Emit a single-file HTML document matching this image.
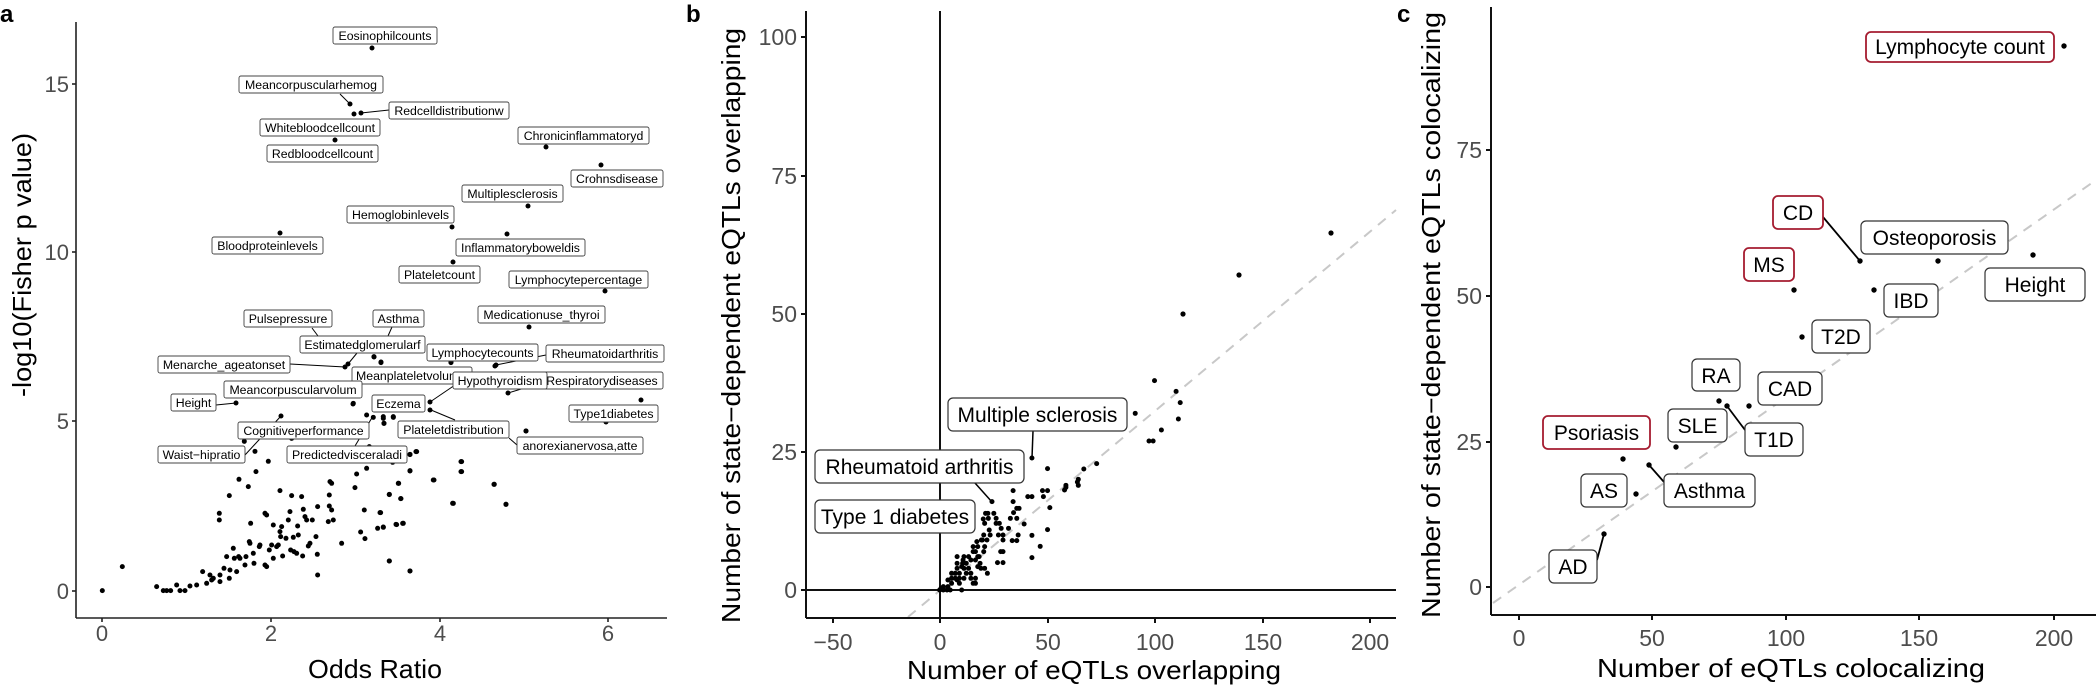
<!DOCTYPE html>
<html><head><meta charset="utf-8"><style>
html,body{margin:0;padding:0;background:#fff;}
svg{display:block;font-family:"Liberation Sans",Arial,sans-serif;}
.tk{font-size:22px;fill:#4d4d4d;}
.tkb{font-size:23px;fill:#4d4d4d;}
.ttl{font-size:26px;fill:#000;}
.la rect{fill:#fff;stroke:#444;stroke-width:0.9;}
.la text{font-size:12.3px;text-anchor:middle;fill:#000;}
.lb rect{fill:#fff;stroke:#333;stroke-width:1.2;}
.lb text{font-size:21px;text-anchor:middle;fill:#000;}
.red{stroke:#a51c30 !important;stroke-width:1.8 !important;}
</style></head><body>
<svg width="2096" height="688" viewBox="0 0 2096 688" xmlns="http://www.w3.org/2000/svg">
<!-- panel letters -->
<text x="0" y="22" font-size="24" font-weight="bold">a</text>
<text x="686" y="22" font-size="24" font-weight="bold">b</text>
<text x="1397" y="22" font-size="24" font-weight="bold">c</text>

<!-- ============ PANEL A ============ -->
<g stroke="#222" stroke-width="1.6">
<line x1="76" y1="22" x2="76" y2="618"/>
<line x1="76" y1="618" x2="667" y2="618"/>
<line x1="72" y1="591" x2="76" y2="591"/><line x1="72" y1="421" x2="76" y2="421"/><line x1="72" y1="252" x2="76" y2="252"/><line x1="72" y1="84" x2="76" y2="84"/>
<line x1="102" y1="618" x2="102" y2="622"/><line x1="271" y1="618" x2="271" y2="622"/><line x1="440" y1="618" x2="440" y2="622"/><line x1="608" y1="618" x2="608" y2="622"/>
</g>
<g class="tk" text-anchor="end">
<text x="69" y="599">0</text><text x="69" y="429">5</text><text x="69" y="260">10</text><text x="69" y="92">15</text>
</g>
<g class="tk" text-anchor="middle">
<text x="102" y="641">0</text><text x="271" y="641">2</text><text x="440" y="641">4</text><text x="608" y="641">6</text>
</g>
<text class="ttl" x="308" y="678" textLength="134" lengthAdjust="spacingAndGlyphs">Odds Ratio</text>
<text class="ttl" transform="translate(31,397) rotate(-90)" textLength="264" lengthAdjust="spacingAndGlyphs">-log10(Fisher p value)</text>

<!-- leader lines a -->
<g stroke="#000" stroke-width="1">
<line x1="340" y1="94" x2="350" y2="104"/>
<line x1="361" y1="113" x2="389" y2="110"/>
<line x1="312" y1="328" x2="318" y2="336"/>
<line x1="392" y1="327" x2="388" y2="336"/>
<line x1="357" y1="353" x2="348" y2="364"/>
<line x1="290" y1="364" x2="345" y2="367"/>
<line x1="496" y1="365" x2="546" y2="355"/>
<line x1="430" y1="402" x2="455" y2="385"/>
<line x1="508" y1="393" x2="541" y2="383"/>
<line x1="216" y1="405" x2="236" y2="403"/>
<line x1="431" y1="410" x2="455" y2="420"/>
<line x1="245" y1="455" x2="281" y2="416"/>
<line x1="355" y1="446" x2="373" y2="416"/>
<line x1="509" y1="438" x2="517" y2="445"/>
</g>

<!-- points a -->
<g fill="#000">
<g>
<circle cx="372" cy="48" r="2.5"/><circle cx="350" cy="104" r="2.5"/><circle cx="354" cy="114" r="2.5"/><circle cx="361" cy="113" r="2.5"/><circle cx="335" cy="140" r="2.5"/><circle cx="280" cy="233" r="2.5"/><circle cx="452" cy="227" r="2.5"/><circle cx="528" cy="206" r="2.5"/><circle cx="546" cy="147" r="2.5"/><circle cx="601" cy="165" r="2.5"/><circle cx="507" cy="234" r="2.5"/><circle cx="453" cy="262" r="2.5"/><circle cx="605" cy="291" r="2.5"/><circle cx="529" cy="327" r="2.5"/><circle cx="496" cy="365" r="2.5"/><circle cx="508" cy="393" r="2.5"/><circle cx="236" cy="403" r="2.5"/><circle cx="430" cy="402" r="2.5"/><circle cx="430" cy="410" r="2.5"/><circle cx="281" cy="416" r="2.5"/><circle cx="606" cy="422" r="2.5"/><circle cx="641" cy="400" r="2.5"/><circle cx="526" cy="431" r="2.5"/><circle cx="345" cy="367" r="2.5"/><circle cx="348" cy="364" r="2.5"/><circle cx="374" cy="357" r="2.5"/><circle cx="381" cy="362" r="2.5"/><circle cx="451" cy="362" r="2.5"/><circle cx="353" cy="404" r="2.5"/>
</g>
<g transform="matrix(0.3333 0 0 0.3333 0 250)">
<circle cx="307" cy="1022" r="7.5"/><circle cx="367" cy="950" r="7.5"/><circle cx="470" cy="1010" r="7.5"/><circle cx="490" cy="1022" r="7.5"/><circle cx="500" cy="1022" r="7.5"/><circle cx="512" cy="1022" r="7.5"/><circle cx="530" cy="1005" r="7.5"/><circle cx="540" cy="1022" r="7.5"/><circle cx="555" cy="1022" r="7.5"/><circle cx="570" cy="1008" r="7.5"/><circle cx="590" cy="1005" r="7.5"/><circle cx="608" cy="965" r="7.5"/><circle cx="620" cy="1000" r="7.5"/><circle cx="630" cy="975" r="7.5"/><circle cx="635" cy="990" r="7.5"/><circle cx="640" cy="985" r="7.5"/><circle cx="660" cy="975" r="7.5"/><circle cx="660" cy="995" r="7.5"/><circle cx="672" cy="955" r="7.5"/><circle cx="680" cy="920" r="7.5"/><circle cx="688" cy="985" r="7.5"/><circle cx="690" cy="960" r="7.5"/><circle cx="700" cy="895" r="7.5"/><circle cx="703" cy="925" r="7.5"/><circle cx="710" cy="965" r="7.5"/><circle cx="716" cy="920" r="7.5"/><circle cx="720" cy="925" r="7.5"/><circle cx="735" cy="945" r="7.5"/><circle cx="738" cy="920" r="7.5"/><circle cx="748" cy="875" r="7.5"/><circle cx="750" cy="880" r="7.5"/><circle cx="752" cy="820" r="7.5"/><circle cx="760" cy="910" r="7.5"/><circle cx="762" cy="940" r="7.5"/><circle cx="768" cy="665" r="7.5"/><circle cx="778" cy="890" r="7.5"/><circle cx="780" cy="885" r="7.5"/><circle cx="795" cy="945" r="7.5"/><circle cx="800" cy="950" r="7.5"/><circle cx="795" cy="790" r="7.5"/><circle cx="800" cy="795" r="7.5"/><circle cx="808" cy="900" r="7.5"/><circle cx="815" cy="885" r="7.5"/><circle cx="820" cy="825" r="7.5"/><circle cx="820" cy="925" r="7.5"/><circle cx="830" cy="890" r="7.5"/><circle cx="835" cy="885" r="7.5"/><circle cx="840" cy="722" r="7.5"/><circle cx="840" cy="845" r="7.5"/><circle cx="842" cy="860" r="7.5"/><circle cx="845" cy="830" r="7.5"/><circle cx="848" cy="918" r="7.5"/><circle cx="858" cy="865" r="7.5"/><circle cx="865" cy="810" r="7.5"/><circle cx="870" cy="785" r="7.5"/><circle cx="872" cy="900" r="7.5"/><circle cx="875" cy="737" r="7.5"/><circle cx="880" cy="862" r="7.5"/><circle cx="882" cy="905" r="7.5"/><circle cx="890" cy="910" r="7.5"/><circle cx="893" cy="828" r="7.5"/><circle cx="895" cy="855" r="7.5"/><circle cx="905" cy="740" r="7.5"/><circle cx="908" cy="918" r="7.5"/><circle cx="910" cy="778" r="7.5"/><circle cx="915" cy="800" r="7.5"/><circle cx="920" cy="810" r="7.5"/><circle cx="925" cy="888" r="7.5"/><circle cx="930" cy="880" r="7.5"/><circle cx="937" cy="810" r="7.5"/><circle cx="948" cy="860" r="7.5"/><circle cx="952" cy="913" r="7.5"/><circle cx="953" cy="770" r="7.5"/><circle cx="953" cy="975" r="7.5"/><circle cx="985" cy="815" r="7.5"/><circle cx="988" cy="735" r="7.5"/><circle cx="988" cy="768" r="7.5"/><circle cx="990" cy="695" r="7.5"/><circle cx="995" cy="700" r="7.5"/><circle cx="995" cy="780" r="7.5"/><circle cx="1000" cy="810" r="7.5"/><circle cx="1025" cy="880" r="7.5"/><circle cx="1065" cy="713" r="7.5"/><circle cx="1070" cy="672" r="7.5"/><circle cx="1082" cy="846" r="7.5"/><circle cx="1095" cy="866" r="7.5"/><circle cx="1093" cy="780" r="7.5"/><circle cx="1100" cy="655" r="7.5"/><circle cx="1133" cy="835" r="7.5"/><circle cx="1142" cy="788" r="7.5"/><circle cx="1150" cy="831" r="7.5"/><circle cx="1168" cy="734" r="7.5"/><circle cx="1168" cy="933" r="7.5"/><circle cx="1190" cy="824" r="7.5"/><circle cx="1195" cy="700" r="7.5"/><circle cx="1203" cy="746" r="7.5"/><circle cx="1210" cy="820" r="7.5"/><circle cx="1230" cy="663" r="7.5"/><circle cx="1230" cy="963" r="7.5"/><circle cx="1300" cy="690" r="7.5"/><circle cx="1358" cy="760" r="7.5"/><circle cx="1385" cy="635" r="7.5"/><circle cx="1385" cy="665" r="7.5"/><circle cx="1483" cy="703" r="7.5"/><circle cx="1518" cy="763" r="7.5"/><circle cx="733" cy="574" r="7.5"/><circle cx="765" cy="604" r="7.5"/><circle cx="805" cy="634" r="7.5"/><circle cx="717" cy="688" r="7.5"/><circle cx="745" cy="710" r="7.5"/><circle cx="688" cy="737" r="7.5"/><circle cx="658" cy="790" r="7.5"/><circle cx="658" cy="810" r="7.5"/><circle cx="875" cy="565" r="7.5"/><circle cx="1060" cy="460" r="7.5"/><circle cx="1100" cy="495" r="7.5"/><circle cx="1120" cy="502" r="7.5"/><circle cx="1150" cy="500" r="7.5"/><circle cx="1180" cy="500" r="7.5"/><circle cx="1152" cy="520" r="7.5"/><circle cx="1122" cy="320" r="7.5"/><circle cx="1143" cy="338" r="7.5"/><circle cx="1353" cy="338" r="7.5"/><circle cx="1485" cy="348" r="7.5"/><circle cx="1230" cy="614" r="7.5"/><circle cx="1248" cy="605" r="7.5"/><circle cx="1108" cy="590" r="7.5"/><circle cx="1178" cy="637" r="7.5"/>
</g>
<g transform="matrix(0.3333 0 0 0.3333 380 320)">
<circle cx="10" cy="295" r="7.5"/><circle cx="40" cy="292" r="7.5"/><circle cx="12" cy="310" r="7.5"/><circle cx="90" cy="403" r="7.5"/><circle cx="110" cy="395" r="7.5"/><circle cx="243" cy="425" r="7.5"/><circle cx="243" cy="455" r="7.5"/><circle cx="90" cy="452" r="7.5"/><circle cx="162" cy="480" r="7.5"/><circle cx="56" cy="490" r="7.5"/><circle cx="342" cy="493" r="7.5"/><circle cx="28" cy="523" r="7.5"/><circle cx="62" cy="536" r="7.5"/><circle cx="220" cy="550" r="7.5"/><circle cx="378" cy="553" r="7.5"/><circle cx="0" cy="578" r="7.5"/><circle cx="10" cy="622" r="7.5"/><circle cx="48" cy="613" r="7.5"/><circle cx="68" cy="610" r="7.5"/><circle cx="28" cy="723" r="7.5"/><circle cx="90" cy="753" r="7.5"/><circle cx="438" cy="333" r="7.5"/>
</g>
</g>

<!-- labels a -->
<g class="la">
<rect x="333" y="27" width="104" height="17" rx="2"/><text x="385" y="40">Eosinophilcounts</text>
<rect x="239" y="76" width="144" height="17" rx="2"/><text x="311" y="89">Meancorpuscularhemog</text>
<rect x="389" y="102" width="120" height="17" rx="2"/><text x="449" y="115">Redcelldistributionw</text>
<rect x="260" y="119" width="120" height="17" rx="2"/><text x="320" y="132">Whitebloodcellcount</text>
<rect x="267" y="145" width="111" height="17" rx="2"/><text x="322.5" y="158">Redbloodcellcount</text>
<rect x="212" y="237" width="111" height="17" rx="2"/><text x="267.5" y="250">Bloodproteinlevels</text>
<rect x="347" y="206" width="107" height="17" rx="2"/><text x="400.5" y="219">Hemoglobinlevels</text>
<rect x="462" y="185" width="101" height="17" rx="2"/><text x="512.5" y="198">Multiplesclerosis</text>
<rect x="518" y="127" width="131" height="17" rx="2"/><text x="583.5" y="140">Chronicinflammatoryd</text>
<rect x="571" y="170" width="92" height="17" rx="2"/><text x="617" y="183">Crohnsdisease</text>
<rect x="456" y="239" width="129" height="17" rx="2"/><text x="520.5" y="252">Inflammatoryboweldis</text>
<rect x="399" y="266" width="81" height="17" rx="2"/><text x="439.5" y="279">Plateletcount</text>
<rect x="509" y="271" width="139" height="17" rx="2"/><text x="578.5" y="284">Lymphocytepercentage</text>
<rect x="478" y="306" width="127" height="17" rx="2"/><text x="541.5" y="319">Medicationuse_thyroi</text>
<rect x="244" y="310" width="88" height="17" rx="2"/><text x="288" y="323">Pulsepressure</text>
<rect x="373" y="310" width="51" height="17" rx="2"/><text x="398.5" y="323">Asthma</text>
<rect x="427" y="344" width="111" height="17" rx="2"/><text x="482.5" y="357">Lymphocytecounts</text>
<rect x="546" y="345" width="118" height="17" rx="2"/><text x="605" y="358">Rheumatoidarthritis</text>
<rect x="300" y="336" width="125" height="17" rx="2"/><text x="362.5" y="349">Estimatedglomerularf</text>
<rect x="158" y="356" width="132" height="17" rx="2"/><text x="224" y="369">Menarche_ageatonset</text>
<rect x="352" y="367" width="120" height="17" rx="2"/><text x="356" y="380" style="text-anchor:start">Meanplateletvolume</text>
<rect x="541" y="372" width="122" height="17" rx="2"/><text x="602" y="385">Respiratorydiseases</text>
<rect x="453" y="372" width="94" height="17" rx="2"/><text x="500" y="385">Hypothyroidism</text>
<rect x="224" y="381" width="138" height="17" rx="2"/><text x="293" y="394">Meancorpuscularvolum</text>
<rect x="171" y="394" width="45" height="17" rx="2"/><text x="193.5" y="407">Height</text>
<rect x="372" y="395" width="53" height="17" rx="2"/><text x="398.5" y="408">Eczema</text>
<rect x="238" y="422" width="131" height="17" rx="2"/><text x="303.5" y="435">Cognitiveperformance</text>
<rect x="398" y="421" width="111" height="17" rx="2"/><text x="453.5" y="434">Plateletdistribution</text>
<rect x="158" y="446" width="87" height="17" rx="2"/><text x="201.5" y="459">Waist−hipratio</text>
<rect x="287" y="446" width="120" height="17" rx="2"/><text x="347" y="459">Predictedvisceraladi</text>
<rect x="517" y="437" width="126" height="17" rx="2"/><text x="580" y="450">anorexianervosa,atte</text>
<rect x="569" y="405" width="89" height="17" rx="2"/><text x="613.5" y="418">Type1diabetes</text>
</g>

<!-- ============ PANEL B ============ -->
<line x1="908" y1="617" x2="1396" y2="210" stroke="#c8c8c8" stroke-width="2" stroke-dasharray="10,8"/>
<g stroke="#111" stroke-width="2">
<line x1="806" y1="11" x2="806" y2="618"/>
<line x1="806" y1="618" x2="1396" y2="618"/>
<line x1="940" y1="11" x2="940" y2="618"/>
<line x1="806" y1="590" x2="1396" y2="590"/>
<line x1="801" y1="590" x2="806" y2="590"/><line x1="801" y1="452" x2="806" y2="452"/><line x1="801" y1="314" x2="806" y2="314"/><line x1="801" y1="176" x2="806" y2="176"/><line x1="801" y1="37" x2="806" y2="37"/>
<line x1="833" y1="618" x2="833" y2="623"/><line x1="940" y1="618" x2="940" y2="623"/><line x1="1048" y1="618" x2="1048" y2="623"/><line x1="1155" y1="618" x2="1155" y2="623"/><line x1="1263" y1="618" x2="1263" y2="623"/><line x1="1370" y1="618" x2="1370" y2="623"/>
</g>
<g class="tkb" text-anchor="end">
<text x="797" y="598">0</text><text x="797" y="460">25</text><text x="797" y="322">50</text><text x="797" y="184">75</text><text x="797" y="45">100</text>
</g>
<g class="tkb" text-anchor="middle">
<text x="833" y="650">−50</text><text x="940" y="650">0</text><text x="1048" y="650">50</text><text x="1155" y="650">100</text><text x="1263" y="650">150</text><text x="1370" y="650">200</text>
</g>
<text class="ttl" x="907" y="679" textLength="374" lengthAdjust="spacingAndGlyphs">Number of eQTLs overlapping</text>
<text class="ttl" transform="translate(740,623) rotate(-90)" textLength="595" lengthAdjust="spacingAndGlyphs">Number of state−dependent eQTLs overlapping</text>

<defs><ellipse id="db" cx="0" cy="0" rx="5.45" ry="7.5"/></defs>
<g fill="#000" transform="matrix(0.4591 0 0 0.3333 700 360)">
<use href="#db" x="522" y="690"/><use href="#db" x="530" y="690"/><use href="#db" x="538" y="690"/><use href="#db" x="545" y="690"/><use href="#db" x="530" y="680"/><use href="#db" x="540" y="680"/><use href="#db" x="525" y="685"/><use href="#db" x="548" y="670"/><use href="#db" x="548" y="655"/><use href="#db" x="548" y="640"/><use href="#db" x="556" y="655"/><use href="#db" x="556" y="640"/><use href="#db" x="565" y="640"/><use href="#db" x="565" y="655"/><use href="#db" x="565" y="670"/><use href="#db" x="570" y="690"/><use href="#db" x="575" y="655"/><use href="#db" x="580" y="640"/><use href="#db" x="560" y="625"/><use href="#db" x="560" y="610"/><use href="#db" x="572" y="610"/><use href="#db" x="575" y="625"/><use href="#db" x="585" y="625"/><use href="#db" x="590" y="640"/><use href="#db" x="590" y="655"/><use href="#db" x="595" y="670"/><use href="#db" x="600" y="670"/><use href="#db" x="600" y="655"/><use href="#db" x="580" y="610"/><use href="#db" x="585" y="590"/><use href="#db" x="595" y="575"/><use href="#db" x="600" y="575"/><use href="#db" x="595" y="560"/><use href="#db" x="605" y="560"/><use href="#db" x="608" y="590"/><use href="#db" x="600" y="600"/><use href="#db" x="610" y="610"/><use href="#db" x="612" y="625"/><use href="#db" x="620" y="625"/><use href="#db" x="626" y="640"/><use href="#db" x="560" y="590"/><use href="#db" x="575" y="590"/><use href="#db" x="605" y="590"/><use href="#db" x="618" y="575"/><use href="#db" x="620" y="560"/><use href="#db" x="615" y="540"/><use href="#db" x="625" y="540"/><use href="#db" x="618" y="525"/><use href="#db" x="632" y="525"/><use href="#db" x="630" y="510"/><use href="#db" x="620" y="490"/><use href="#db" x="628" y="475"/><use href="#db" x="622" y="460"/><use href="#db" x="640" y="460"/><use href="#db" x="645" y="490"/><use href="#db" x="645" y="475"/><use href="#db" x="652" y="490"/><use href="#db" x="656" y="505"/><use href="#db" x="650" y="525"/><use href="#db" x="660" y="525"/><use href="#db" x="660" y="540"/><use href="#db" x="655" y="575"/><use href="#db" x="660" y="575"/><use href="#db" x="648" y="608"/><use href="#db" x="660" y="608"/><use href="#db" x="680" y="542"/><use href="#db" x="690" y="542"/><use href="#db" x="672" y="505"/><use href="#db" x="676" y="475"/><use href="#db" x="683" y="458"/><use href="#db" x="690" y="445"/><use href="#db" x="695" y="445"/><use href="#db" x="690" y="475"/><use href="#db" x="706" y="492"/><use href="#db" x="693" y="525"/><use href="#db" x="682" y="392"/><use href="#db" x="682" y="425"/><use href="#db" x="714" y="410"/><use href="#db" x="723" y="410"/><use href="#db" x="746" y="392"/><use href="#db" x="757" y="392"/><use href="#db" x="748" y="410"/><use href="#db" x="762" y="443"/><use href="#db" x="757" y="509"/><use href="#db" x="741" y="559"/><use href="#db" x="723" y="593"/><use href="#db" x="723" y="526"/><use href="#db" x="757" y="326"/><use href="#db" x="723" y="294"/><use href="#db" x="636" y="425"/><use href="#db" x="627" y="460"/><use href="#db" x="613" y="540"/><use href="#db" x="603" y="545"/><use href="#db" x="590" y="600"/><use href="#db" x="573" y="600"/><use href="#db" x="560" y="660"/><use href="#db" x="540" y="660"/><use href="#db" x="570" y="620"/><use href="#db" x="617" y="477"/><use href="#db" x="605" y="620"/>
<use href="#db" x="836" y="327"/><use href="#db" x="864" y="311"/><use href="#db" x="824" y="358"/><use href="#db" x="824" y="376"/><use href="#db" x="797" y="376"/><use href="#db" x="794" y="390"/><use href="#db" x="797" y="382"/><use href="#db" x="822" y="366"/><use href="#db" x="948" y="160"/><use href="#db" x="978" y="243"/><use href="#db" x="987" y="243"/><use href="#db" x="1005" y="210"/><use href="#db" x="1042" y="177"/><use href="#db" x="1046" y="128"/><use href="#db" x="1037" y="94"/><use href="#db" x="990" y="62"/>
</g>
<g fill="#000">
<circle cx="1331" cy="233" r="2.6"/><circle cx="1239" cy="275" r="2.6"/><circle cx="1183" cy="314" r="2.6"/>
</g>
<g stroke="#000" stroke-width="1.5">
<line x1="1033" y1="431" x2="1032" y2="458"/>
<line x1="975" y1="483" x2="992" y2="502"/>
</g>
<g class="lb">
<rect x="948" y="398" width="179" height="33" rx="5"/><text x="1037.5" y="422">Multiple sclerosis</text>
<rect x="815" y="450" width="209" height="33" rx="5"/><text x="919.5" y="474">Rheumatoid arthritis</text>
<rect x="815" y="500" width="160" height="33" rx="5"/><text x="895" y="524">Type 1 diabetes</text>
</g>

<!-- ============ PANEL C ============ -->
<line x1="1493" y1="603" x2="2096" y2="180" stroke="#c8c8c8" stroke-width="2" stroke-dasharray="10,8"/>
<g stroke="#111" stroke-width="2">
<line x1="1491" y1="7" x2="1491" y2="615"/>
<line x1="1491" y1="615" x2="2096" y2="615"/>
<line x1="1486" y1="587" x2="1491" y2="587"/><line x1="1486" y1="442" x2="1491" y2="442"/><line x1="1486" y1="296" x2="1491" y2="296"/><line x1="1486" y1="150" x2="1491" y2="150"/>
<line x1="1519" y1="615" x2="1519" y2="620"/><line x1="1652" y1="615" x2="1652" y2="620"/><line x1="1786" y1="615" x2="1786" y2="620"/><line x1="1919" y1="615" x2="1919" y2="620"/><line x1="2054" y1="615" x2="2054" y2="620"/>
</g>
<g class="tkb" text-anchor="end">
<text x="1482" y="595">0</text><text x="1482" y="450">25</text><text x="1482" y="304">50</text><text x="1482" y="158">75</text>
</g>
<g class="tkb" text-anchor="middle">
<text x="1519" y="646">0</text><text x="1652" y="646">50</text><text x="1786" y="646">100</text><text x="1919" y="646">150</text><text x="2054" y="646">200</text>
</g>
<text class="ttl" x="1597" y="677" textLength="388" lengthAdjust="spacingAndGlyphs">Number of eQTLs colocalizing</text>
<text class="ttl" transform="translate(1440,618) rotate(-90)" textLength="606" lengthAdjust="spacingAndGlyphs">Number of state−dependent eQTLs colocalizing</text>

<g stroke="#000" stroke-width="1.8">
<line x1="1823" y1="217" x2="1860" y2="261"/>
<line x1="1727" y1="406" x2="1745" y2="430"/>
<line x1="1649" y1="465" x2="1664" y2="482"/>
<line x1="1604" y1="534" x2="1597" y2="560"/>
</g>
<g fill="#000">
<circle cx="2064" cy="46" r="2.7"/><circle cx="1860" cy="261" r="2.7"/><circle cx="1938" cy="261" r="2.7"/><circle cx="2033" cy="255" r="2.7"/><circle cx="1794" cy="290" r="2.7"/><circle cx="1874" cy="290" r="2.7"/><circle cx="1802" cy="337" r="2.7"/><circle cx="1719" cy="401" r="2.7"/><circle cx="1727" cy="406" r="2.7"/><circle cx="1749" cy="406" r="2.7"/><circle cx="1676" cy="447" r="2.7"/><circle cx="1623" cy="459" r="2.7"/><circle cx="1649" cy="465" r="2.7"/><circle cx="1636" cy="494" r="2.7"/><circle cx="1604" cy="534" r="2.7"/>
</g>
<g class="lb">
<rect class="red" x="1866" y="32" width="188" height="30" rx="5"/><text x="1960" y="54">Lymphocyte count</text>
<rect class="red" x="1773" y="196" width="50" height="33" rx="5"/><text x="1798" y="220">CD</text>
<rect x="1861" y="221" width="147" height="33" rx="5"/><text x="1934.5" y="245">Osteoporosis</text>
<rect class="red" x="1744" y="248" width="50" height="33" rx="5"/><text x="1769" y="272">MS</text>
<rect x="1985" y="268" width="100" height="33" rx="5"/><text x="2035" y="292">Height</text>
<rect x="1884" y="284" width="54" height="33" rx="5"/><text x="1911" y="308">IBD</text>
<rect x="1812" y="320" width="58" height="33" rx="5"/><text x="1841" y="344">T2D</text>
<rect x="1692" y="359" width="48" height="32" rx="5"/><text x="1716" y="383">RA</text>
<rect x="1758" y="372" width="64" height="33" rx="5"/><text x="1790" y="396">CAD</text>
<rect x="1668" y="409" width="59" height="33" rx="5"/><text x="1697.5" y="433">SLE</text>
<rect x="1745" y="423" width="58" height="33" rx="5"/><text x="1774" y="447">T1D</text>
<rect class="red" x="1543" y="416" width="107" height="33" rx="5"/><text x="1596.5" y="440">Psoriasis</text>
<rect x="1581" y="474" width="46" height="33" rx="5"/><text x="1604" y="498">AS</text>
<rect x="1664" y="474" width="91" height="33" rx="5"/><text x="1709.5" y="498">Asthma</text>
<rect x="1549" y="550" width="48" height="33" rx="5"/><text x="1573" y="574">AD</text>
</g>
</svg>
</body></html>
